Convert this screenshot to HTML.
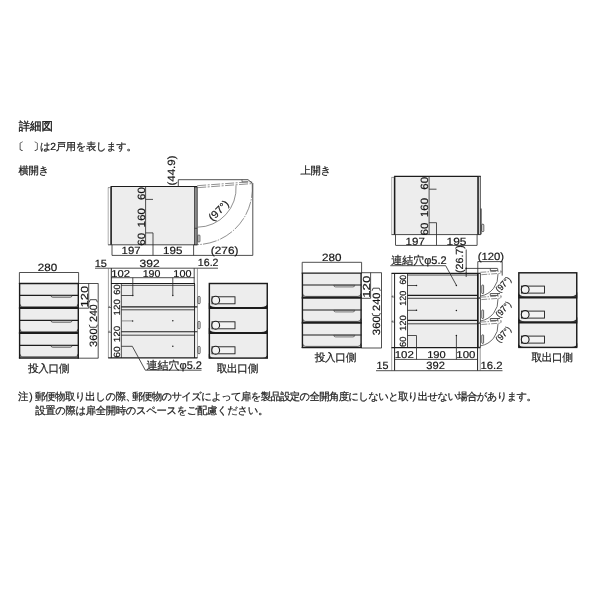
<!DOCTYPE html>
<html lang="ja">
<head>
<meta charset="utf-8">
<title>詳細図</title>
<style>
html,body{margin:0;padding:0;background:#fff;}
body{width:600px;height:600px;position:relative;overflow:hidden;will-change:transform;filter:grayscale(1);text-rendering:geometricPrecision;font-family:"Liberation Sans",sans-serif;color:#222;}
.t{position:absolute;white-space:nowrap;line-height:1;-webkit-text-stroke:0.22px #222;}
svg{position:absolute;left:0;top:0;}
svg text{font-family:"Liberation Sans",sans-serif;stroke:#151515;stroke-width:0.18px;}
</style>
</head>
<body>
<svg width="600" height="600" viewBox="0 0 600 600">
<rect x="111.5" y="186.5" width="83" height="58.2" fill="#ededed" stroke="none" stroke-width="0.8" rx="0"/>
<line x1="108" y1="244.8" x2="197.4" y2="244.8" stroke="#1c1c1c" stroke-width="0.8"/>
<line x1="110.6" y1="186.5" x2="197.2" y2="186.5" stroke="#1c1c1c" stroke-width="1.2"/>
<line x1="111.1" y1="186.8" x2="111.1" y2="244.8" stroke="#1c1c1c" stroke-width="1.6"/>
<line x1="108.2" y1="187.6" x2="108.2" y2="244.8" stroke="#777" stroke-width="0.6"/>
<line x1="108" y1="187.6" x2="111" y2="187.6" stroke="#555" stroke-width="0.6"/>
<line x1="145.6" y1="186.5" x2="145.6" y2="244.8" stroke="#303030" stroke-width="0.85"/>
<line x1="145.6" y1="199.4" x2="153" y2="199.4" stroke="#303030" stroke-width="0.85"/>
<line x1="145.6" y1="232.9" x2="153" y2="232.9" stroke="#303030" stroke-width="0.85"/>
<line x1="153" y1="232.9" x2="153" y2="255.4" stroke="#303030" stroke-width="0.85"/>
<line x1="112" y1="244.8" x2="112" y2="255.4" stroke="#303030" stroke-width="0.85"/>
<line x1="193.6" y1="244.8" x2="193.6" y2="255.4" stroke="#303030" stroke-width="0.85"/>
<text x="144.8" y="245.79" font-size="10.5" fill="#151515" textLength="12.95" lengthAdjust="spacingAndGlyphs" transform="rotate(-90 144.8 245.79)">60</text>
<text x="144.8" y="227.17" font-size="10.5" fill="#151515" textLength="19.01" lengthAdjust="spacingAndGlyphs" transform="rotate(-90 144.8 227.17)">160</text>
<text x="144.8" y="199.88" font-size="10.5" fill="#151515" textLength="12.73" lengthAdjust="spacingAndGlyphs" transform="rotate(-90 144.8 199.88)">60</text>
<rect x="194.6" y="187" width="2.6" height="57.8" fill="#8c8c8c" stroke="#1c1c1c" stroke-width="0.7" rx="0"/>
<line x1="194.6" y1="228.3" x2="197.2" y2="228.3" stroke="#1c1c1c" stroke-width="0.6"/>
<rect x="198" y="235" width="1.9" height="7" fill="none" stroke="#1c1c1c" stroke-width="0.7" rx="0.8"/>
<line x1="112" y1="255.4" x2="252.8" y2="255.4" stroke="#303030" stroke-width="0.85"/>
<line x1="252.8" y1="183" x2="252.8" y2="255.4" stroke="#303030" stroke-width="0.85"/>
<line x1="178.3" y1="179.7" x2="178.3" y2="186.5" stroke="#303030" stroke-width="0.85"/>
<path d="M178.3,179.7 H248 L251.9,182.9" fill="none" stroke="#303030" stroke-width="0.85"/>
<path d="M242,179.7 V181.8 H248.3" fill="none" stroke="#303030" stroke-width="0.6"/>
<line x1="197.2" y1="185.7" x2="251.8" y2="181.7" stroke="#444" stroke-width="0.6" stroke-dasharray="9 1.5 2 1.5"/>
<line x1="197.2" y1="187.7" x2="251.9" y2="183.6" stroke="#444" stroke-width="0.6" stroke-dasharray="9 1.5 2 1.5"/>
<line x1="251.8" y1="181.7" x2="251.9" y2="183.6" stroke="#444" stroke-width="0.6"/>
<path d="M236,185.4 A39,39 0 0 1 197.6,227.2" fill="none" stroke="#444" stroke-width="0.6"/>
<path d="M252.2,184 A56.3,56.3 0 0 1 197.5,244.6" fill="none" stroke="#444" stroke-width="0.6" stroke-dasharray="14 1.2 1.5 1.2"/>
<text x="121.64" y="254.2" font-size="10.5" fill="#151515" textLength="18.94" lengthAdjust="spacingAndGlyphs">197</text>
<text x="163.12" y="254.2" font-size="10.5" fill="#151515" textLength="19.37" lengthAdjust="spacingAndGlyphs">195</text>
<text x="210.87" y="254.2" font-size="10.5" fill="#151515" textLength="27.56" lengthAdjust="spacingAndGlyphs">(276)</text>
<text x="175.4" y="185.51" font-size="10.5" fill="#151515" textLength="30.03" lengthAdjust="spacingAndGlyphs" transform="rotate(-90 175.4 185.51)">(44.9)</text>
<text x="221.2" y="213" font-size="10.5" fill="#151515" text-anchor="middle" textLength="24" lengthAdjust="spacingAndGlyphs" transform="rotate(-45 221.2 213)">(97°)</text>
<line x1="95" y1="268.2" x2="218" y2="268.2" stroke="#303030" stroke-width="0.85"/>
<text x="94.76" y="266.8" font-size="10.5" fill="#151515" textLength="12.2" lengthAdjust="spacingAndGlyphs">15</text>
<text x="139.54" y="267.2" font-size="10.5" fill="#151515" textLength="20.06" lengthAdjust="spacingAndGlyphs">392</text>
<text x="197.89" y="266.4" font-size="10.5" fill="#151515" textLength="20.64" lengthAdjust="spacingAndGlyphs">16.2</text>
<line x1="108.4" y1="268.2" x2="108.4" y2="358" stroke="#666" stroke-width="0.6"/>
<line x1="111.3" y1="268.2" x2="111.3" y2="358" stroke="#1c1c1c" stroke-width="1.0"/>
<line x1="194.2" y1="268.2" x2="194.2" y2="284" stroke="#303030" stroke-width="0.85"/>
<line x1="197.4" y1="268.2" x2="197.4" y2="358" stroke="#555" stroke-width="0.6"/>
<line x1="111" y1="277.7" x2="194.4" y2="277.7" stroke="#303030" stroke-width="0.85"/>
<text x="111.35" y="277" font-size="10" fill="#151515" textLength="18.72" lengthAdjust="spacingAndGlyphs">102</text>
<text x="142.69" y="277" font-size="10" fill="#151515" textLength="17.72" lengthAdjust="spacingAndGlyphs">190</text>
<text x="173.38" y="277" font-size="10" fill="#151515" textLength="18.05" lengthAdjust="spacingAndGlyphs">100</text>
<rect x="121.3" y="285.3" width="73.3" height="72.5" fill="#ededed" stroke="none" stroke-width="0.8" rx="0"/>
<line x1="111" y1="283.5" x2="195" y2="283.5" stroke="#1c1c1c" stroke-width="1.2"/>
<line x1="121.3" y1="284" x2="121.3" y2="358" stroke="#1c1c1c" stroke-width="0.8"/>
<line x1="194.6" y1="284" x2="194.6" y2="358" stroke="#1c1c1c" stroke-width="1.0"/>
<line x1="121.3" y1="285.3" x2="194.6" y2="285.3" stroke="#1c1c1c" stroke-width="0.8"/>
<line x1="121.3" y1="306.9" x2="197.3" y2="306.9" stroke="#1c1c1c" stroke-width="1.1"/>
<path d="M109.6,305.9 L108.6,307.5 L111,307.5" fill="none" stroke="#1c1c1c" stroke-width="0.6"/>
<line x1="121.3" y1="309.8" x2="194.6" y2="309.8" stroke="#1c1c1c" stroke-width="0.8"/>
<line x1="121.3" y1="331.7" x2="197.3" y2="331.7" stroke="#1c1c1c" stroke-width="1.1"/>
<path d="M109.6,330.7 L108.6,332.3 L111,332.3" fill="none" stroke="#1c1c1c" stroke-width="0.6"/>
<line x1="121.3" y1="335.2" x2="194.6" y2="335.2" stroke="#1c1c1c" stroke-width="0.8"/>
<line x1="108.2" y1="357.8" x2="197.4" y2="357.8" stroke="#1c1c1c" stroke-width="1.2"/>
<rect x="198" y="296.4" width="2.1" height="7.3" fill="#f4f4f4" stroke="#1c1c1c" stroke-width="0.7" rx="0.9"/>
<rect x="198" y="321.4" width="2.1" height="7.3" fill="#f4f4f4" stroke="#1c1c1c" stroke-width="0.7" rx="0.9"/>
<rect x="198" y="346.4" width="2.1" height="7.3" fill="#f4f4f4" stroke="#1c1c1c" stroke-width="0.7" rx="0.9"/>
<path d="M132.8,277.7 V295.5 H121.3" fill="none" stroke="#303030" stroke-width="0.85"/>
<line x1="172.8" y1="277.7" x2="172.8" y2="295.3" stroke="#303030" stroke-width="0.85"/>
<circle cx="132.8" cy="295.5" r="0.75" fill="#1c1c1c" stroke="none" stroke-width="0"/>
<circle cx="172.8" cy="295.5" r="0.75" fill="#1c1c1c" stroke="none" stroke-width="0"/>
<circle cx="132.6" cy="320.9" r="0.75" fill="#1c1c1c" stroke="none" stroke-width="0"/>
<circle cx="172.8" cy="320.8" r="0.75" fill="#1c1c1c" stroke="none" stroke-width="0"/>
<circle cx="172.8" cy="346.2" r="0.75" fill="#1c1c1c" stroke="none" stroke-width="0"/>
<line x1="121.3" y1="320.9" x2="132.5" y2="320.9" stroke="#666" stroke-width="0.7"/>
<path d="M121.3,346.3 H132.3 L145.3,370.2 H201.5" fill="none" stroke="#303030" stroke-width="0.85"/>
<text x="119.7" y="357.83" font-size="9" fill="#151515" textLength="11.53" lengthAdjust="spacingAndGlyphs" transform="rotate(-90 119.7 357.83)">60</text>
<text x="119.7" y="342.36" font-size="9" fill="#151515" textLength="16.54" lengthAdjust="spacingAndGlyphs" transform="rotate(-90 119.7 342.36)">120</text>
<text x="119.7" y="315.45" font-size="9" fill="#151515" textLength="16.33" lengthAdjust="spacingAndGlyphs" transform="rotate(-90 119.7 315.45)">120</text>
<text x="119.7" y="294.67" font-size="9" fill="#151515" textLength="10.33" lengthAdjust="spacingAndGlyphs" transform="rotate(-90 119.7 294.67)">60</text>
<line x1="19.4" y1="272.5" x2="78.6" y2="272.5" stroke="#303030" stroke-width="0.85"/>
<line x1="19.4" y1="272.5" x2="19.4" y2="284" stroke="#303030" stroke-width="0.85"/>
<line x1="78.6" y1="272.5" x2="78.6" y2="284" stroke="#303030" stroke-width="0.85"/>
<text x="37.71" y="271.4" font-size="10.5" fill="#151515" textLength="19.44" lengthAdjust="spacingAndGlyphs">280</text>
<rect x="19.2" y="283.4" width="59.5" height="75" fill="#ededed" stroke="none" stroke-width="0.8" rx="0"/>
<line x1="19.2" y1="295.4" x2="78.7" y2="295.4" stroke="#1c1c1c" stroke-width="1.2"/>
<path d="M51.0,295.8 Q51.2,297.3 52.8,297.3 H70.2 Q71.8,297.3 72.0,295.8Z" fill="#f6f6f6" stroke="#1c1c1c" stroke-width="0.6"/>
<path d="M19.2,303.9 Q19.2,307.0 22.4,307.0 L19.2,307.0Z" fill="#1c1c1c" stroke="none" stroke-width="0"/>
<path d="M78.7,303.9 Q78.7,307.0 75.5,307.0 L78.7,307.0Z" fill="#1c1c1c" stroke="none" stroke-width="0"/>
<path d="M19.8,303.9 Q19.8,306.8 22.8,306.8 H75.1 Q78.1,306.8 78.1,303.9" fill="none" stroke="#1c1c1c" stroke-width="0.7"/>
<line x1="18.9" y1="308.1" x2="79.0" y2="308.1" stroke="#1c1c1c" stroke-width="2.0"/>
<line x1="19.2" y1="320.4" x2="78.7" y2="320.4" stroke="#1c1c1c" stroke-width="1.2"/>
<path d="M51.0,320.8 Q51.2,322.3 52.8,322.3 H70.2 Q71.8,322.3 72.0,320.8Z" fill="#f6f6f6" stroke="#1c1c1c" stroke-width="0.6"/>
<path d="M19.2,328.9 Q19.2,332.0 22.4,332.0 L19.2,332.0Z" fill="#1c1c1c" stroke="none" stroke-width="0"/>
<path d="M78.7,328.9 Q78.7,332.0 75.5,332.0 L78.7,332.0Z" fill="#1c1c1c" stroke="none" stroke-width="0"/>
<path d="M19.8,328.9 Q19.8,331.8 22.8,331.8 H75.1 Q78.1,331.8 78.1,328.9" fill="none" stroke="#1c1c1c" stroke-width="0.7"/>
<line x1="18.9" y1="333.1" x2="79.0" y2="333.1" stroke="#1c1c1c" stroke-width="2.0"/>
<line x1="19.2" y1="345.4" x2="78.7" y2="345.4" stroke="#1c1c1c" stroke-width="1.2"/>
<path d="M51.0,345.8 Q51.2,347.3 52.8,347.3 H70.2 Q71.8,347.3 72.0,345.8Z" fill="#f6f6f6" stroke="#1c1c1c" stroke-width="0.6"/>
<path d="M19.2,353.9 Q19.2,357.0 22.4,357.0 L19.2,357.0Z" fill="#1c1c1c" stroke="none" stroke-width="0"/>
<path d="M78.7,353.9 Q78.7,357.0 75.5,357.0 L78.7,357.0Z" fill="#1c1c1c" stroke="none" stroke-width="0"/>
<path d="M19.8,353.9 Q19.8,356.8 22.8,356.8 H75.1 Q78.1,356.8 78.1,353.9" fill="none" stroke="#1c1c1c" stroke-width="0.7"/>
<line x1="18.9" y1="358.0" x2="79.0" y2="358.0" stroke="#1c1c1c" stroke-width="1.4"/>
<line x1="18.9" y1="283.5" x2="79.0" y2="283.5" stroke="#1c1c1c" stroke-width="1.4"/>
<line x1="19.6" y1="283.4" x2="19.6" y2="358.4" stroke="#1c1c1c" stroke-width="1.4"/>
<line x1="78.3" y1="283.4" x2="78.3" y2="358.4" stroke="#1c1c1c" stroke-width="1.4"/>
<line x1="78.6" y1="283.5" x2="98.3" y2="283.5" stroke="#303030" stroke-width="0.85"/>
<line x1="78.6" y1="308.2" x2="88.7" y2="308.2" stroke="#303030" stroke-width="0.85"/>
<line x1="88.7" y1="283.5" x2="88.7" y2="308.2" stroke="#303030" stroke-width="0.85"/>
<line x1="98.2" y1="283.5" x2="98.2" y2="358.2" stroke="#303030" stroke-width="0.85"/>
<line x1="78.6" y1="358.2" x2="98.3" y2="358.2" stroke="#303030" stroke-width="0.85"/>
<text x="87.8" y="307.28" font-size="10.2" fill="#151515" textLength="21.38" lengthAdjust="spacingAndGlyphs" transform="rotate(-90 87.8 307.28)">120</text>
<text x="97" y="347.03" font-size="10.5" fill="#151515" textLength="18.66" lengthAdjust="spacingAndGlyphs" transform="rotate(-90 97 347.03)">360</text>
<text x="97" y="322.04" font-size="10.5" fill="#151515" textLength="17.86" lengthAdjust="spacingAndGlyphs" transform="rotate(-90 97 322.04)">240</text>
<path d="M89.2,324.7 L90.2,327.3 H96.4 L97.4,324.7" fill="none" stroke="#151515" stroke-width="0.8"/>
<path d="M89.2,302.3 L90.2,299.7 H96.4 L97.4,302.3" fill="none" stroke="#151515" stroke-width="0.8"/>
<rect x="208.8" y="283.2" width="59" height="75" fill="#ededed" stroke="none" stroke-width="0.8" rx="0"/>
<path d="M208.8,302.8 Q209.6,307.1 215.3,307.1 L208.8,307.1Z" fill="#1c1c1c" stroke="none" stroke-width="0"/>
<path d="M267.8,302.8 Q267.0,307.1 261.3,307.1 L267.8,307.1Z" fill="#1c1c1c" stroke="none" stroke-width="0"/>
<line x1="208.8" y1="308.0" x2="267.8" y2="308.0" stroke="#1c1c1c" stroke-width="2.2"/>
<rect x="212.0" y="296.8" width="23" height="7" fill="#f2f2f2" stroke="#1c1c1c" stroke-width="0.9" rx="0"/>
<circle cx="215.7" cy="300.2" r="3.9" fill="#f3f3f3" stroke="#1c1c1c" stroke-width="1.1"/>
<path d="M208.8,327.8 Q209.6,332.1 215.3,332.1 L208.8,332.1Z" fill="#1c1c1c" stroke="none" stroke-width="0"/>
<path d="M267.8,327.8 Q267.0,332.1 261.3,332.1 L267.8,332.1Z" fill="#1c1c1c" stroke="none" stroke-width="0"/>
<line x1="208.8" y1="333.0" x2="267.8" y2="333.0" stroke="#1c1c1c" stroke-width="2.2"/>
<rect x="212.0" y="321.8" width="23" height="7" fill="#f2f2f2" stroke="#1c1c1c" stroke-width="0.9" rx="0"/>
<circle cx="215.7" cy="325.2" r="3.9" fill="#f3f3f3" stroke="#1c1c1c" stroke-width="1.1"/>
<path d="M208.8,353.8 Q209.6,357.8 214.3,357.8 L208.8,357.8Z" fill="#1c1c1c" stroke="none" stroke-width="0"/>
<path d="M267.8,353.8 Q267.0,357.8 262.3,357.8 L267.8,357.8Z" fill="#1c1c1c" stroke="none" stroke-width="0"/>
<rect x="212.0" y="346.8" width="23" height="7" fill="#f2f2f2" stroke="#1c1c1c" stroke-width="0.9" rx="0"/>
<circle cx="215.7" cy="350.2" r="3.9" fill="#f3f3f3" stroke="#1c1c1c" stroke-width="1.1"/>
<rect x="209.35" y="283.5" width="57.9" height="74.6" fill="none" stroke="#1c1c1c" stroke-width="1.45" rx="0"/>
<rect x="395.0" y="176.3" width="83" height="58.2" fill="#ededed" stroke="none" stroke-width="0.8" rx="0"/>
<line x1="391.5" y1="234.6" x2="480.9" y2="234.6" stroke="#1c1c1c" stroke-width="0.8"/>
<line x1="394.1" y1="176.3" x2="480.7" y2="176.3" stroke="#1c1c1c" stroke-width="1.2"/>
<line x1="394.6" y1="176.6" x2="394.6" y2="234.6" stroke="#1c1c1c" stroke-width="1.6"/>
<line x1="391.7" y1="177.4" x2="391.7" y2="234.6" stroke="#777" stroke-width="0.6"/>
<line x1="391.5" y1="177.4" x2="394.5" y2="177.4" stroke="#555" stroke-width="0.6"/>
<line x1="429.1" y1="176.3" x2="429.1" y2="234.6" stroke="#303030" stroke-width="0.85"/>
<line x1="429.1" y1="189.2" x2="436.5" y2="189.2" stroke="#303030" stroke-width="0.85"/>
<line x1="429.1" y1="222.7" x2="436.5" y2="222.7" stroke="#303030" stroke-width="0.85"/>
<line x1="436.5" y1="222.7" x2="436.5" y2="245.2" stroke="#303030" stroke-width="0.85"/>
<line x1="395.5" y1="234.6" x2="395.5" y2="245.2" stroke="#303030" stroke-width="0.85"/>
<line x1="477.1" y1="234.6" x2="477.1" y2="245.2" stroke="#303030" stroke-width="0.85"/>
<text x="428.3" y="235.59" font-size="10.5" fill="#151515" textLength="12.95" lengthAdjust="spacingAndGlyphs" transform="rotate(-90 428.3 235.59)">60</text>
<text x="428.3" y="216.97" font-size="10.5" fill="#151515" textLength="19.01" lengthAdjust="spacingAndGlyphs" transform="rotate(-90 428.3 216.97)">160</text>
<text x="428.3" y="189.68" font-size="10.5" fill="#151515" textLength="12.73" lengthAdjust="spacingAndGlyphs" transform="rotate(-90 428.3 189.68)">60</text>
<rect x="477.9" y="176.6" width="2.6" height="57.8" fill="#cfcfcf" stroke="#1c1c1c" stroke-width="0.6" rx="0"/>
<line x1="478.1" y1="176.4" x2="478.1" y2="234.5" stroke="#1c1c1c" stroke-width="1.3"/>
<line x1="481.1" y1="208.5" x2="481.1" y2="234.3" stroke="#1c1c1c" stroke-width="0.9"/>
<rect x="481.8" y="224.2" width="2" height="7.4" fill="none" stroke="#1c1c1c" stroke-width="0.7" rx="0.8"/>
<line x1="395.5" y1="245.4" x2="477.2" y2="245.4" stroke="#303030" stroke-width="0.85"/>
<text x="405.63" y="244.5" font-size="10.5" fill="#151515" textLength="19.15" lengthAdjust="spacingAndGlyphs">197</text>
<text x="446.59" y="244.5" font-size="10.5" fill="#151515" textLength="19.91" lengthAdjust="spacingAndGlyphs">195</text>
<rect x="407.5" y="275" width="70.5" height="72.6" fill="#ededed" stroke="none" stroke-width="0.8" rx="0"/>
<line x1="391.7" y1="273.3" x2="391.7" y2="370.7" stroke="#666" stroke-width="0.6"/>
<line x1="394.6" y1="273.3" x2="394.6" y2="370.7" stroke="#1c1c1c" stroke-width="1.0"/>
<line x1="391.5" y1="273.3" x2="480.5" y2="273.3" stroke="#1c1c1c" stroke-width="1.2"/>
<line x1="407.5" y1="273.5" x2="407.5" y2="347.6" stroke="#1c1c1c" stroke-width="0.8"/>
<line x1="407.5" y1="275" x2="478" y2="275" stroke="#1c1c1c" stroke-width="0.8"/>
<line x1="407.5" y1="295.4" x2="480.3" y2="295.4" stroke="#1c1c1c" stroke-width="1.1"/>
<line x1="407.5" y1="298.3" x2="478" y2="298.3" stroke="#1c1c1c" stroke-width="0.8"/>
<path d="M392.9,295.4 L391.9,297.0 L394.4,297.0" fill="none" stroke="#1c1c1c" stroke-width="0.6"/>
<line x1="407.5" y1="320.4" x2="480.3" y2="320.4" stroke="#1c1c1c" stroke-width="1.1"/>
<line x1="407.5" y1="323.8" x2="478" y2="323.8" stroke="#1c1c1c" stroke-width="0.8"/>
<path d="M392.9,320.4 L391.9,322.0 L394.4,322.0" fill="none" stroke="#1c1c1c" stroke-width="0.6"/>
<line x1="391.5" y1="347.6" x2="480.4" y2="347.6" stroke="#1c1c1c" stroke-width="1.2"/>
<line x1="477.6" y1="273.5" x2="477.6" y2="370.7" stroke="#1c1c1c" stroke-width="1.0"/>
<line x1="480.2" y1="273.5" x2="480.2" y2="370.7" stroke="#555" stroke-width="0.6"/>
<line x1="407.5" y1="285.5" x2="416.5" y2="285.5" stroke="#303030" stroke-width="0.85"/>
<line x1="407.5" y1="310.3" x2="416.5" y2="310.3" stroke="#303030" stroke-width="0.85"/>
<path d="M407.5,335.5 H416.5 V359.4" fill="none" stroke="#303030" stroke-width="0.85"/>
<line x1="456.4" y1="335.2" x2="456.4" y2="359.4" stroke="#303030" stroke-width="0.85"/>
<circle cx="416.5" cy="285.5" r="0.75" fill="#1c1c1c" stroke="none" stroke-width="0"/>
<circle cx="416.5" cy="310.3" r="0.75" fill="#1c1c1c" stroke="none" stroke-width="0"/>
<circle cx="456.4" cy="310.5" r="0.75" fill="#1c1c1c" stroke="none" stroke-width="0"/>
<circle cx="456.4" cy="335.4" r="0.75" fill="#1c1c1c" stroke="none" stroke-width="0"/>
<text x="405.6" y="346.88" font-size="9" fill="#151515" textLength="10.44" lengthAdjust="spacingAndGlyphs" transform="rotate(-90 405.6 346.88)">60</text>
<text x="405.6" y="331.02" font-size="9" fill="#151515" textLength="15.79" lengthAdjust="spacingAndGlyphs" transform="rotate(-90 405.6 331.02)">120</text>
<text x="405.6" y="305.79" font-size="9" fill="#151515" textLength="15.04" lengthAdjust="spacingAndGlyphs" transform="rotate(-90 405.6 305.79)">120</text>
<text x="405.6" y="284.54" font-size="9" fill="#151515" textLength="9.68" lengthAdjust="spacingAndGlyphs" transform="rotate(-90 405.6 284.54)">60</text>
<line x1="394.6" y1="359.4" x2="477.6" y2="359.4" stroke="#303030" stroke-width="0.85"/>
<line x1="376" y1="370.7" x2="502.5" y2="370.7" stroke="#303030" stroke-width="0.85"/>
<text x="394.73" y="358" font-size="10" fill="#151515" textLength="19.15" lengthAdjust="spacingAndGlyphs">102</text>
<text x="427.15" y="358" font-size="10" fill="#151515" textLength="18.58" lengthAdjust="spacingAndGlyphs">190</text>
<text x="456.33" y="358" font-size="10" fill="#151515" textLength="19.12" lengthAdjust="spacingAndGlyphs">100</text>
<text x="376.48" y="368.6" font-size="10.5" fill="#151515" textLength="11.97" lengthAdjust="spacingAndGlyphs">15</text>
<text x="426.28" y="368.6" font-size="10.5" fill="#151515" textLength="18.58" lengthAdjust="spacingAndGlyphs">392</text>
<text x="480.54" y="368.8" font-size="10.5" fill="#151515" textLength="22.03" lengthAdjust="spacingAndGlyphs">16.2</text>
<path d="M390.3,265.7 H445.7 L456.4,285.3" fill="none" stroke="#303030" stroke-width="0.85"/>
<circle cx="456.4" cy="285.5" r="0.75" fill="#1c1c1c" stroke="none" stroke-width="0"/>
<text x="463" y="273.06" font-size="10.3" fill="#151515" textLength="27.93" lengthAdjust="spacingAndGlyphs" transform="rotate(-90 463 273.06)">(26.7)</text>
<line x1="466.2" y1="249.5" x2="466.2" y2="277" stroke="#303030" stroke-width="0.85"/>
<line x1="466.2" y1="268.4" x2="497.6" y2="268.4" stroke="#303030" stroke-width="0.85"/>
<circle cx="466.2" cy="268.4" r="0.85" fill="#1c1c1c" stroke="none" stroke-width="0"/>
<circle cx="466.2" cy="273.3" r="0.85" fill="#1c1c1c" stroke="none" stroke-width="0"/>
<line x1="477.8" y1="261.6" x2="502.2" y2="261.6" stroke="#303030" stroke-width="0.85"/>
<line x1="477.8" y1="261.6" x2="477.8" y2="273.3" stroke="#303030" stroke-width="0.85"/>
<line x1="502.2" y1="261.6" x2="502.2" y2="275.6" stroke="#303030" stroke-width="0.85"/>
<text x="477.7" y="259.8" font-size="10.5" fill="#151515" textLength="26.4" lengthAdjust="spacingAndGlyphs">(120)</text>
<rect x="478.0" y="273.7" width="2.3" height="23.6" fill="#f0f0f0" stroke="#1c1c1c" stroke-width="0.6" rx="0"/>
<line x1="477.9" y1="273.3" x2="477.9" y2="297.8" stroke="#1c1c1c" stroke-width="1.3"/>
<rect x="481.8" y="285.1" width="1.8" height="8.4" fill="none" stroke="#1c1c1c" stroke-width="0.7" rx="0.5"/>
<line x1="480.3" y1="272.3" x2="501.3" y2="271.0" stroke="#444" stroke-width="0.6" stroke-dasharray="6 1.2 1.5 1.2"/>
<line x1="481.3" y1="274.7" x2="500.7" y2="273.3" stroke="#444" stroke-width="0.6" stroke-dasharray="6 1.2 1.5 1.2"/>
<line x1="501.3" y1="271.0" x2="500.7" y2="273.3" stroke="#444" stroke-width="0.6"/>
<path d="M490.3,268.7 V270.6 H497.7 V268.7" fill="none" stroke="#1c1c1c" stroke-width="0.7"/>
<path d="M498,274.0 A20.9,20.9 0 0 1 480.7,296.0" fill="none" stroke="#3a3a3a" stroke-width="0.75"/>
<text x="505.4" y="286.5" font-size="9" fill="#151515" text-anchor="middle" textLength="18" lengthAdjust="spacingAndGlyphs" transform="rotate(-47 505.4 286.5)">(97°)</text>
<rect x="478.0" y="298.6" width="2.3" height="23.6" fill="#f0f0f0" stroke="#1c1c1c" stroke-width="0.6" rx="0"/>
<line x1="477.9" y1="298.2" x2="477.9" y2="322.7" stroke="#1c1c1c" stroke-width="1.3"/>
<rect x="481.8" y="310.0" width="1.8" height="8.4" fill="none" stroke="#1c1c1c" stroke-width="0.7" rx="0.5"/>
<line x1="480.3" y1="297.2" x2="501.3" y2="295.9" stroke="#444" stroke-width="0.6" stroke-dasharray="6 1.2 1.5 1.2"/>
<line x1="481.3" y1="299.6" x2="500.7" y2="298.2" stroke="#444" stroke-width="0.6" stroke-dasharray="6 1.2 1.5 1.2"/>
<line x1="501.3" y1="295.9" x2="500.7" y2="298.2" stroke="#444" stroke-width="0.6"/>
<path d="M490.3,293.6 V295.5 H497.7 V293.6" fill="none" stroke="#1c1c1c" stroke-width="0.7"/>
<line x1="490.3" y1="293.6" x2="500" y2="293.6" stroke="#303030" stroke-width="0.85"/>
<path d="M498,298.9 A20.9,20.9 0 0 1 480.7,320.9" fill="none" stroke="#3a3a3a" stroke-width="0.75"/>
<text x="505.4" y="311.4" font-size="9" fill="#151515" text-anchor="middle" textLength="18" lengthAdjust="spacingAndGlyphs" transform="rotate(-47 505.4 311.4)">(97°)</text>
<rect x="478.0" y="323.5" width="2.3" height="23.6" fill="#f0f0f0" stroke="#1c1c1c" stroke-width="0.6" rx="0"/>
<line x1="477.9" y1="323.1" x2="477.9" y2="347.6" stroke="#1c1c1c" stroke-width="1.3"/>
<rect x="481.8" y="334.9" width="1.8" height="8.4" fill="none" stroke="#1c1c1c" stroke-width="0.7" rx="0.5"/>
<line x1="480.3" y1="322.1" x2="501.3" y2="320.8" stroke="#444" stroke-width="0.6" stroke-dasharray="6 1.2 1.5 1.2"/>
<line x1="481.3" y1="324.5" x2="500.7" y2="323.1" stroke="#444" stroke-width="0.6" stroke-dasharray="6 1.2 1.5 1.2"/>
<line x1="501.3" y1="320.8" x2="500.7" y2="323.1" stroke="#444" stroke-width="0.6"/>
<path d="M490.3,318.5 V320.4 H497.7 V318.5" fill="none" stroke="#1c1c1c" stroke-width="0.7"/>
<line x1="490.3" y1="318.5" x2="500" y2="318.5" stroke="#303030" stroke-width="0.85"/>
<path d="M498,323.8 A20.9,20.9 0 0 1 480.7,345.8" fill="none" stroke="#3a3a3a" stroke-width="0.75"/>
<text x="505.4" y="336.3" font-size="9" fill="#151515" text-anchor="middle" textLength="18" lengthAdjust="spacingAndGlyphs" transform="rotate(-47 505.4 336.3)">(97°)</text>
<line x1="302.2" y1="262.3" x2="361.6" y2="262.3" stroke="#303030" stroke-width="0.85"/>
<line x1="302.2" y1="262.3" x2="302.2" y2="273" stroke="#303030" stroke-width="0.85"/>
<line x1="361.6" y1="262.3" x2="361.6" y2="273" stroke="#303030" stroke-width="0.85"/>
<text x="322.01" y="261" font-size="10.5" fill="#151515" textLength="19.44" lengthAdjust="spacingAndGlyphs">280</text>
<rect x="302" y="273.0" width="59.5" height="75" fill="#ededed" stroke="none" stroke-width="0.8" rx="0"/>
<line x1="302" y1="285.0" x2="361.5" y2="285.0" stroke="#1c1c1c" stroke-width="1.2"/>
<path d="M333.8,285.4 Q334,286.9 335.6,286.9 H353 Q354.6,286.9 354.8,285.4Z" fill="#f6f6f6" stroke="#1c1c1c" stroke-width="0.6"/>
<path d="M302,293.5 Q302,296.6 305.2,296.6 L302,296.6Z" fill="#1c1c1c" stroke="none" stroke-width="0"/>
<path d="M361.5,293.5 Q361.5,296.6 358.3,296.6 L361.5,296.6Z" fill="#1c1c1c" stroke="none" stroke-width="0"/>
<path d="M302.6,293.5 Q302.6,296.4 305.6,296.4 H357.9 Q360.9,296.4 360.9,293.5" fill="none" stroke="#1c1c1c" stroke-width="0.7"/>
<line x1="301.7" y1="297.7" x2="361.8" y2="297.7" stroke="#1c1c1c" stroke-width="2.0"/>
<line x1="302" y1="310.0" x2="361.5" y2="310.0" stroke="#1c1c1c" stroke-width="1.2"/>
<path d="M333.8,310.4 Q334,311.9 335.6,311.9 H353 Q354.6,311.9 354.8,310.4Z" fill="#f6f6f6" stroke="#1c1c1c" stroke-width="0.6"/>
<path d="M302,318.5 Q302,321.6 305.2,321.6 L302,321.6Z" fill="#1c1c1c" stroke="none" stroke-width="0"/>
<path d="M361.5,318.5 Q361.5,321.6 358.3,321.6 L361.5,321.6Z" fill="#1c1c1c" stroke="none" stroke-width="0"/>
<path d="M302.6,318.5 Q302.6,321.4 305.6,321.4 H357.9 Q360.9,321.4 360.9,318.5" fill="none" stroke="#1c1c1c" stroke-width="0.7"/>
<line x1="301.7" y1="322.7" x2="361.8" y2="322.7" stroke="#1c1c1c" stroke-width="2.0"/>
<line x1="302" y1="335.0" x2="361.5" y2="335.0" stroke="#1c1c1c" stroke-width="1.2"/>
<path d="M333.8,335.4 Q334,336.9 335.6,336.9 H353 Q354.6,336.9 354.8,335.4Z" fill="#f6f6f6" stroke="#1c1c1c" stroke-width="0.6"/>
<path d="M302,343.5 Q302,346.6 305.2,346.6 L302,346.6Z" fill="#1c1c1c" stroke="none" stroke-width="0"/>
<path d="M361.5,343.5 Q361.5,346.6 358.3,346.6 L361.5,346.6Z" fill="#1c1c1c" stroke="none" stroke-width="0"/>
<path d="M302.6,343.5 Q302.6,346.4 305.6,346.4 H357.9 Q360.9,346.4 360.9,343.5" fill="none" stroke="#1c1c1c" stroke-width="0.7"/>
<line x1="301.7" y1="347.6" x2="361.8" y2="347.6" stroke="#1c1c1c" stroke-width="1.4"/>
<line x1="301.7" y1="273.1" x2="361.8" y2="273.1" stroke="#1c1c1c" stroke-width="1.4"/>
<line x1="302.4" y1="273.0" x2="302.4" y2="348.0" stroke="#1c1c1c" stroke-width="1.4"/>
<line x1="361.1" y1="273.0" x2="361.1" y2="348.0" stroke="#1c1c1c" stroke-width="1.4"/>
<line x1="361.5" y1="272.7" x2="381.6" y2="272.7" stroke="#303030" stroke-width="0.85"/>
<line x1="361.5" y1="298.3" x2="370.6" y2="298.3" stroke="#303030" stroke-width="0.85"/>
<line x1="370.6" y1="272.7" x2="370.6" y2="298.3" stroke="#303030" stroke-width="0.85"/>
<line x1="381.5" y1="272.7" x2="381.5" y2="348" stroke="#303030" stroke-width="0.85"/>
<line x1="361.5" y1="348" x2="381.6" y2="348" stroke="#303030" stroke-width="0.85"/>
<text x="369.7" y="297.71" font-size="10.2" fill="#151515" textLength="22.02" lengthAdjust="spacingAndGlyphs" transform="rotate(-90 369.7 297.71)">120</text>
<text x="380.1" y="335.13" font-size="10.5" fill="#151515" textLength="18.98" lengthAdjust="spacingAndGlyphs" transform="rotate(-90 380.1 335.13)">360</text>
<text x="380.1" y="310.95" font-size="10.5" fill="#151515" textLength="18.38" lengthAdjust="spacingAndGlyphs" transform="rotate(-90 380.1 310.95)">240</text>
<path d="M372.1,313.0 L373.1,315.6 H379.3 L380.3,313.0" fill="none" stroke="#151515" stroke-width="0.8"/>
<path d="M372.1,290.8 L373.1,288.2 H379.3 L380.3,290.8" fill="none" stroke="#151515" stroke-width="0.8"/>
<rect x="518.3" y="272.5" width="59" height="75" fill="#ededed" stroke="none" stroke-width="0.8" rx="0"/>
<path d="M518.3,292.1 Q519.1,296.4 524.8,296.4 L518.3,296.4Z" fill="#1c1c1c" stroke="none" stroke-width="0"/>
<path d="M577.3,292.1 Q576.5,296.4 570.8,296.4 L577.3,296.4Z" fill="#1c1c1c" stroke="none" stroke-width="0"/>
<line x1="518.3" y1="297.3" x2="577.3" y2="297.3" stroke="#1c1c1c" stroke-width="2.2"/>
<rect x="521.5" y="286.1" width="23" height="7" fill="#f2f2f2" stroke="#1c1c1c" stroke-width="0.9" rx="0"/>
<circle cx="525.2" cy="289.5" r="3.9" fill="#f3f3f3" stroke="#1c1c1c" stroke-width="1.1"/>
<path d="M518.3,317.1 Q519.1,321.4 524.8,321.4 L518.3,321.4Z" fill="#1c1c1c" stroke="none" stroke-width="0"/>
<path d="M577.3,317.1 Q576.5,321.4 570.8,321.4 L577.3,321.4Z" fill="#1c1c1c" stroke="none" stroke-width="0"/>
<line x1="518.3" y1="322.3" x2="577.3" y2="322.3" stroke="#1c1c1c" stroke-width="2.2"/>
<rect x="521.5" y="311.1" width="23" height="7" fill="#f2f2f2" stroke="#1c1c1c" stroke-width="0.9" rx="0"/>
<circle cx="525.2" cy="314.5" r="3.9" fill="#f3f3f3" stroke="#1c1c1c" stroke-width="1.1"/>
<path d="M518.3,343.1 Q519.1,347.1 523.8,347.1 L518.3,347.1Z" fill="#1c1c1c" stroke="none" stroke-width="0"/>
<path d="M577.3,343.1 Q576.5,347.1 571.8,347.1 L577.3,347.1Z" fill="#1c1c1c" stroke="none" stroke-width="0"/>
<rect x="521.5" y="336.1" width="23" height="7" fill="#f2f2f2" stroke="#1c1c1c" stroke-width="0.9" rx="0"/>
<circle cx="525.2" cy="339.5" r="3.9" fill="#f3f3f3" stroke="#1c1c1c" stroke-width="1.1"/>
<rect x="518.85" y="272.8" width="57.9" height="74.6" fill="none" stroke="#1c1c1c" stroke-width="1.45" rx="0"/>
</svg>
<div class="t" style="left:18.8px;top:122px;font-size:11.5px;letter-spacing:-0.2px;color:#1a1a1a;-webkit-text-stroke:0.35px #1a1a1a;">詳細図</div>
<div class="t" style="left:13.6px;top:142.5px;font-size:10.3px;letter-spacing:-0.3px;">〔　〕<span style="margin-left:-3.6px">は2戸用を表します。</span></div>
<div class="t" style="left:18.6px;top:166.9px;font-size:10.4px;letter-spacing:-0.4px;">横開き</div>
<div class="t" style="left:300.6px;top:166.9px;font-size:10.4px;letter-spacing:-0.4px;">上開き</div>
<div class="t" style="left:27.9px;top:363.5px;font-size:10.7px;letter-spacing:-0.4px;">投入口側</div>
<div class="t" style="left:216.8px;top:363.8px;font-size:10.7px;letter-spacing:-0.4px;">取出口側</div>
<div class="t" style="left:314.8px;top:353.3px;font-size:10.7px;letter-spacing:-0.4px;">投入口側</div>
<div class="t" style="left:531.4px;top:353.3px;font-size:10.7px;letter-spacing:-0.4px;">取出口側</div>
<div class="t" style="left:146.5px;top:360.9px;font-size:11px;">連結穴φ5.2</div>
<div class="t" style="left:391.2px;top:255.5px;font-size:11px;">連結穴φ5.2</div>
<div class="t" style="left:18.1px;top:393.1px;font-size:10.4px;letter-spacing:-0.4px;">注<span style="margin:0 2.7px 0 1.2px">)</span>郵便物取り出しの際<span style="margin-right:-3.4px">、</span><span style="letter-spacing:-0.68px">郵便物のサイズによって扉を製品設定の全開角度にしないと取り出せない場合があります。</span></div>
<div class="t" style="left:35.3px;top:406.9px;font-size:10.4px;letter-spacing:-0.4px;">設置の際は扉全開時のスペースをご配慮ください。</div>
</body>
</html>
